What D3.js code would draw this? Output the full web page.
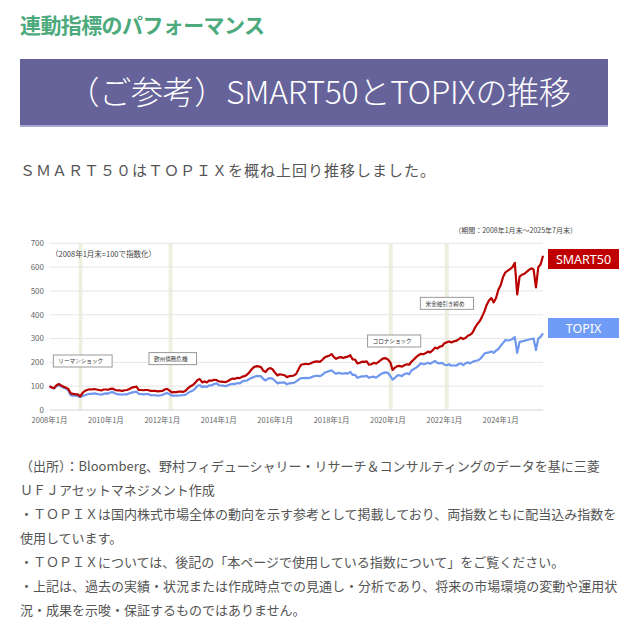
<!DOCTYPE html>
<html>
<head>
<meta charset="utf-8">
<script src="https://cdn.jsdelivr.net/npm/d3@7"></script>
<style>
  body { margin: 0; background: #fff; }
  svg { display: block; font-family: "Noto Sans CJK JP", "Noto Sans", sans-serif; }
</style>
</head>
<body>
<svg id="page" width="639" height="629"></svg>
<script>
// monthly index values, Jan 2008 = 100
var smart50 = [
  100, 94, 92, 104, 109, 103, 98, 94, 88, 70, 68, 66,
  66, 57, 70, 80, 84, 87, 86, 88, 86, 84, 82, 86,
  86, 85, 89, 90, 84, 82, 82, 80, 83, 84, 88, 94,
  96, 98, 84, 84, 83, 84, 84, 80, 80, 80, 78, 79,
  80, 86, 89, 82, 74, 75, 75, 77, 77, 76, 82, 92,
  100, 105, 114, 126, 130, 116, 120, 116, 124, 123, 127, 126,
  120, 119, 118, 117, 122, 128, 132, 131, 135, 134, 140, 142,
  148, 158, 170, 180, 184, 183, 180, 165, 160, 172, 176, 170,
  156, 145, 150, 148, 146, 138, 142, 143, 145, 152, 172, 190,
  192, 194, 192, 195, 200, 203, 204, 202, 210, 220, 225, 228,
  235, 222, 215, 220, 222, 218, 222, 224, 230, 212, 212, 196,
  198, 203, 202, 204, 190, 192, 198, 195, 202, 210, 217, 218,
  212, 200, 168, 178, 184, 185, 182, 188, 192, 190, 203, 212,
  222, 230, 236, 234, 238, 245, 242, 250, 262, 258, 266, 268,
  280, 284, 288, 284, 288, 290, 296, 304, 298, 302, 312, 316,
  325, 345, 360, 372, 390, 412, 440, 460, 470, 452, 470, 505,
  525, 560, 578, 585, 592, 600, 618, 485, 560, 568, 572, 580,
  588, 595, 590, 515, 600, 612, 648
];
var topix = [
  100, 94, 91, 100, 104, 99, 94, 90, 82, 62, 60, 60,
  58, 55, 58, 62, 65, 68, 68, 70, 68, 66, 64, 68,
  70, 69, 74, 75, 69, 66, 66, 64, 66, 66, 70, 73,
  75, 77, 68, 67, 66, 67, 67, 62, 62, 62, 60, 61,
  63, 68, 71, 67, 60, 61, 60, 61, 62, 62, 65, 72,
  78, 82, 90, 102, 104, 96, 99, 97, 104, 103, 109, 112,
  104, 103, 102, 100, 104, 108, 110, 109, 113, 112, 120, 122,
  124, 130, 135, 138, 143, 142, 142, 130, 124, 132, 134, 131,
  122, 112, 115, 115, 116, 108, 112, 113, 114, 120, 128, 134,
  134, 135, 134, 136, 140, 143, 143, 142, 147, 156, 160, 164,
  166, 158, 152, 156, 154, 153, 155, 153, 160, 147, 148, 135,
  139, 141, 141, 143, 135, 139, 140, 136, 143, 151, 155, 158,
  156, 142, 128, 135, 145, 146, 142, 151, 154, 150, 166, 172,
  178, 186, 196, 192, 194, 198, 194, 200, 206, 198, 196, 198,
  190, 188, 192, 186, 188, 186, 192, 196, 188, 196, 200, 196,
  202, 206, 208, 212, 222, 236, 240, 242, 246, 240, 250, 256,
  270, 282, 294, 292, 294, 298, 306, 240, 286, 288, 290, 294,
  296, 298, 300, 252, 300, 308, 322
];
var seriesNames = ['SMART50', 'TOPIX'];
var seriesColors = ['#b80000', '#6f97ee'];
var legendColors = ['#c00000', '#6f9cf7'];
var yTicks = [0, 100, 200, 300, 400, 500, 600, 700];
var xTickYears = [2008, 2010, 2012, 2014, 2016, 2018, 2020, 2022, 2024];
// shaded event periods
var bandStarts = ['2009-01-12', '2012-03-22', '2020-01-12', '2022-01-05'];
var bandEnds   = ['2009-03-02', '2012-05-12', '2020-03-02', '2022-02-25'];
// event labels, anchored at (date, value) of the box's top-left corner
var eventLabels = ['リーマンショック', '欧州債務危機', 'コロナショック', '米金融引き締め'];
var eventDates  = ['2008-02-20', '2011-07-12', '2019-04-12', '2021-02-24'];
var eventValues = [231, 241, 315, 473];

var notes = [
  '（出所）：Bloomberg、野村フィデューシャリー・リサーチ＆コンサルティングのデータを基に三菱',
  'ＵＦＪアセットマネジメント作成',
  '・ＴＯＰＩＸは国内株式市場全体の動向を示す参考として掲載しており、両指数ともに配当込み指数を',
  '使用しています。',
  '・ＴＯＰＩＸについては、後記の「本ページで使用している指数について」をご覧ください。',
  '・上記は、過去の実績・状況または作成時点での見通し・分析であり、将来の市場環境の変動や運用状',
  '況・成果を示唆・保証するものではありません。'
];

var svg = d3.select('#page');

// page header
svg.append('text')
   .attr('x', 20).attr('y', 33)
   .attr('font-size', '21px').attr('font-weight', 'bold')
   .attr('letter-spacing', '-0.6px')
   .attr('fill', '#4caa7c')
   .text('連動指標のパフォーマンス');

svg.append('rect').attr('x', 20).attr('y', 59).attr('width', 588).attr('height', 68).attr('fill', '#66639a');
svg.append('rect').attr('x', 20).attr('y', 125).attr('width', 588).attr('height', 2).attr('fill', '#aaa7d0');
svg.append('text')
   .attr('x', 319).attr('y', 104)
   .attr('text-anchor', 'middle')
   .attr('font-size', '32px').attr('font-weight', 300)
   .attr('letter-spacing', '-0.3px')
   .attr('fill', '#fff')
   .text('（ご参考）SMART50とTOPIXの推移');

svg.append('text')
   .attr('x', 20).attr('y', 176)
   .attr('font-size', '15px').attr('letter-spacing', '1px')
   .attr('fill', '#555')
   .text('ＳＭＡＲＴ５０はＴＯＰＩＸを概ね上回り推移しました。');

// chart
var parse = d3.timeParse('%Y-%m-%d');
var months = smart50.map((d, i) => new Date(2008, i, 1));
var x = d3.scaleTime()
          .domain([new Date(2008, 0, 1), new Date(2025, 6, 1)])
          .range([49.5, 543]);
var y = d3.scaleLinear().domain([0, 700]).range([410, 243.3]);

var chart = svg.append('g');

chart.selectAll('rect.band')
     .data(bandStarts)
     .enter().append('rect')
     .attr('class', 'band')
     .attr('x', (d) => x(parse(d)))
     .attr('width', (d, i) => x(parse(bandEnds[i])) - x(parse(d)))
     .attr('y', y(700))
     .attr('height', y(0) - y(700))
     .attr('fill', '#eef0df');

chart.selectAll('line.grid')
     .data(yTicks)
     .enter().append('line')
     .attr('class', 'grid')
     .attr('x1', x.range()[0]).attr('x2', x.range()[1])
     .attr('y1', d => y(d)).attr('y2', d => y(d))
     .attr('stroke', d => d === 0 ? '#d6d6d6' : '#e6e6e6')
     .attr('stroke-width', 1);

chart.selectAll('text.ytick')
     .data(yTicks)
     .enter().append('text')
     .attr('class', 'ytick')
     .attr('x', 44).attr('y', d => y(d) + 2.8)
     .attr('text-anchor', 'end')
     .attr('font-size', '8px').attr('fill', '#666')
     .text(d => d);

chart.selectAll('text.xtick')
     .data(xTickYears)
     .enter().append('text')
     .attr('class', 'xtick')
     .attr('x', d => x(new Date(d, 0, 1))).attr('y', 422.5)
     .attr('text-anchor', 'middle')
     .attr('font-size', '7.5px').attr('fill', '#666')
     .text(d => d + '年1月');

chart.append('text')
     .attr('x', 51).attr('y', 257)
     .attr('font-size', '7.5px').attr('fill', '#444')
     .text('（2008年1月末=100で指数化）');

chart.append('text')
     .attr('x', 577).attr('y', 233)
     .attr('text-anchor', 'end')
     .attr('font-size', '7px').attr('fill', '#444')
     .text('（期間：2008年1月末～2025年7月末）');

var line = d3.line()
             .x((d, i) => x(months[i]))
             .y(d => y(d));

[topix, smart50].forEach(function(values, k) {
  chart.append('path')
       .datum(values)
       .attr('d', line)
       .attr('fill', 'none')
       .attr('stroke', k === 0 ? seriesColors[1] : seriesColors[0])
       .attr('stroke-width', 2.2)
       .attr('stroke-linejoin', 'round');
});

// event boxes
var ev = chart.selectAll('g.event')
              .data(eventLabels)
              .enter().append('g')
              .attr('class', 'event')
              .attr('transform', (d, i) => 'translate(' + x(parse(eventDates[i])) + ',' + y(eventValues[i]) + ')');
ev.append('rect')
  .attr('y', 0).attr('height', 12)
  .attr('fill', '#fff').attr('stroke', '#999').attr('stroke-width', 1);
ev.append('text')
  .attr('x', 5).attr('y', 8.3)
  .attr('font-size', '5.6px').attr('fill', '#333')
  .text(d => d);
ev.each(function() {
  var w = d3.select(this).select('text').node().getComputedTextLength();
  d3.select(this).select('rect').attr('width', w + 14);
});

// legend boxes
var legendY = [249, 318];
var lg = chart.selectAll('g.legend')
              .data(seriesNames)
              .enter().append('g')
              .attr('class', 'legend')
              .attr('transform', (d, i) => 'translate(548,' + legendY[i] + ')');
lg.append('rect')
  .attr('width', 71).attr('height', 20)
  .attr('fill', (d, i) => legendColors[i]);
lg.append('text')
  .attr('x', 35.5).attr('y', 14.8)
  .attr('text-anchor', 'middle')
  .attr('font-family', '"Noto Sans", sans-serif')
  .attr('font-size', '12.5px').attr('fill', '#fff')
  .text(d => d);

// notes under the chart
svg.selectAll('text.note')
   .data(notes)
   .enter().append('text')
   .attr('class', 'note')
   .attr('x', 20).attr('y', (d, i) => 471 + i * 24)
   .attr('font-size', '13px').attr('fill', '#555')
   .text(d => d);
</script>
</body>
</html>
